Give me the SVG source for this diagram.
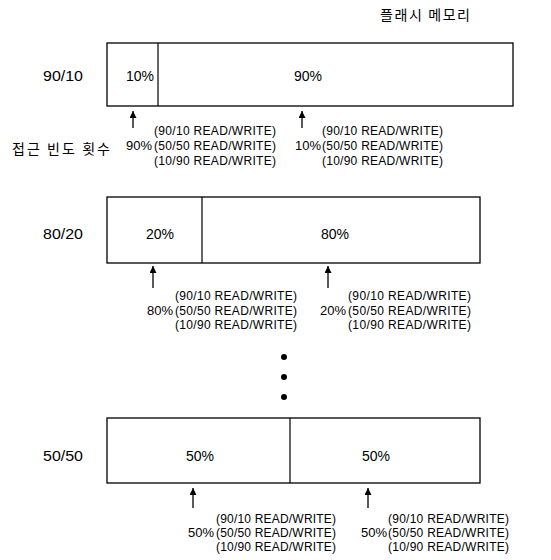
<svg xmlns="http://www.w3.org/2000/svg" width="551" height="560" viewBox="0 0 551 560">
<style>
.box{fill:#fff;stroke:#000;stroke-width:1.3}
.div{stroke:#000;stroke-width:1.2}
.t{font-family:"Liberation Sans","Noto Sans",sans-serif;fill:#000}
.lab{font-size:13px}
.row{font-size:14px}
.pct{font-size:14px;text-anchor:middle}
.rw{font-size:12px}
.ko{font-family:"Noto Sans CJK KR","Noto Sans",sans-serif;font-size:14px;fill:#000}
.arr{stroke:#000;stroke-width:1.3;fill:none}
</style>
<defs>
<marker id="ah" viewBox="0 0 10 10" refX="10" refY="5" markerWidth="9" markerHeight="7" markerUnits="userSpaceOnUse" orient="auto">
<path d="M0,0 L10,5 L0,10 z" fill="#000"/>
</marker>
</defs>
<rect width="551" height="560" fill="#fff"/>
<text class="ko" x="380" y="20" textLength="90">플래시 메모리</text>

<g id="row-90-10">
<text class="t row" x="43" y="81" textLength="40" lengthAdjust="spacingAndGlyphs">90/10</text>
<rect class="box" x="107" y="43" width="406" height="63"/>
<line class="div" x1="158" y1="43" x2="158" y2="106"/>
<text class="t pct" x="140" y="81">10%</text>
<text class="t pct" x="308" y="81">90%</text>
</g>
<g id="freq-90-10-left">
<text class="ko" x="12" y="154" textLength="98">접근 빈도 횟수</text>
<text class="t rw" x="154" y="135" textLength="122">(90/10 READ/WRITE)</text>
<text class="t lab" x="152" y="150" text-anchor="end">90%</text>
<text class="t rw" x="154" y="150" textLength="122">(50/50 READ/WRITE)</text>
<text class="t rw" x="154" y="165" textLength="122">(10/90 READ/WRITE)</text>
</g>
<g id="freq-90-10-right">
<text class="t rw" x="322" y="135" textLength="121">(90/10 READ/WRITE)</text>
<text class="t lab" x="321" y="150" text-anchor="end">10%</text>
<text class="t rw" x="322" y="150" textLength="121">(50/50 READ/WRITE)</text>
<text class="t rw" x="322" y="165" textLength="121">(10/90 READ/WRITE)</text>
</g>

<g id="row-80-20">
<text class="t row" x="43" y="239" textLength="40" lengthAdjust="spacingAndGlyphs">80/20</text>
<rect class="box" x="107" y="197" width="373" height="66"/>
<line class="div" x1="202" y1="197" x2="202" y2="263"/>
<text class="t pct" x="160" y="239">20%</text>
<text class="t pct" x="335" y="239">80%</text>
</g>
<g id="freq-80-20-left">
<text class="t rw" x="175" y="300" textLength="122">(90/10 READ/WRITE)</text>
<text class="t lab" x="173" y="315" text-anchor="end">80%</text>
<text class="t rw" x="175" y="315" textLength="122">(50/50 READ/WRITE)</text>
<text class="t rw" x="175" y="329" textLength="122">(10/90 READ/WRITE)</text>
</g>
<g id="freq-80-20-right">
<text class="t rw" x="348" y="300" textLength="123">(90/10 READ/WRITE)</text>
<text class="t lab" x="346" y="315" text-anchor="end">20%</text>
<text class="t rw" x="348" y="315" textLength="123">(50/50 READ/WRITE)</text>
<text class="t rw" x="348" y="329" textLength="123">(10/90 READ/WRITE)</text>
</g>

<g id="ellipsis">
<circle cx="284" cy="357" r="3"/>
<circle cx="284" cy="377" r="3"/>
<circle cx="284" cy="397" r="3"/>
</g>

<g id="row-50-50">
<text class="t row" x="43" y="461" textLength="40" lengthAdjust="spacingAndGlyphs">50/50</text>
<rect class="box" x="107" y="418" width="373" height="65"/>
<line class="div" x1="290" y1="418" x2="290" y2="483"/>
<text class="t pct" x="200" y="461">50%</text>
<text class="t pct" x="376" y="461">50%</text>
</g>
<g id="freq-50-50-left">
<text class="t rw" x="216" y="523" textLength="120">(90/10 READ/WRITE)</text>
<text class="t lab" x="214" y="537" text-anchor="end">50%</text>
<text class="t rw" x="216" y="537" textLength="120">(50/50 READ/WRITE)</text>
<text class="t rw" x="216" y="551" textLength="120">(10/90 READ/WRITE)</text>
</g>
<g id="freq-50-50-right">
<text class="t rw" x="388" y="523" textLength="121">(90/10 READ/WRITE)</text>
<text class="t lab" x="387" y="537" text-anchor="end">50%</text>
<text class="t rw" x="388" y="537" textLength="121">(50/50 READ/WRITE)</text>
<text class="t rw" x="388" y="551" textLength="121">(10/90 READ/WRITE)</text>
</g>

<g id="connectors">
<line class="arr" x1="133" y1="128" x2="133" y2="111" marker-end="url(#ah)"/>
<line class="arr" x1="302" y1="128" x2="302" y2="111" marker-end="url(#ah)"/>
<line class="arr" x1="153" y1="288" x2="153" y2="266" marker-end="url(#ah)"/>
<line class="arr" x1="328" y1="288" x2="328" y2="266" marker-end="url(#ah)"/>
<line class="arr" x1="193" y1="508" x2="193" y2="488" marker-end="url(#ah)"/>
<line class="arr" x1="368" y1="508" x2="368" y2="488" marker-end="url(#ah)"/>
</g>
</svg>
